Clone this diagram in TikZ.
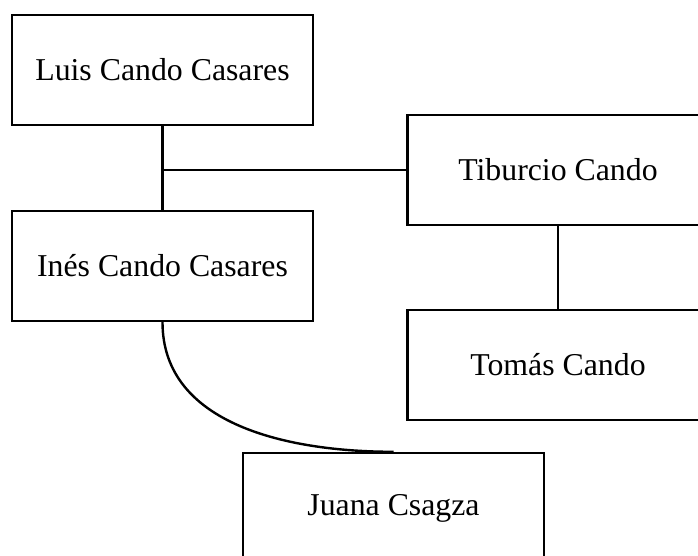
\documentclass[tikz,border=0pt]{standalone}
\usepackage{fontspec}
\setmainfont{Liberation Serif}
\usepackage{tikz}

\begin{document}
\begin{tikzpicture}[x=0.5pt, y=-0.5pt, line width=1.2pt,
		person/.style={draw, rectangle, inner sep=0pt, minimum width=150.5pt, minimum height=55pt,
			font=\fontsize{15.9}{19}\selectfont}]
		\clip (0,0) rectangle (698,556);

		\node[person] (luis) at (162.5,70) {Luis Cando Casares};
		\node[person] (ines) at (162.5,266) {Inés Cando Casares};
		\node[person] (tiburcio) at (558,170) {Tiburcio Cando};
		\node[person] (tomas) at (558,365) {Tomás Cando};
		\node[person] (juana) at (393.5,508) {Juana Csagza};

		\coordinate (join) at (luis.south |- tiburcio.west);

		\draw (luis) -- (ines);
		\draw (join) -- (tiburcio.west);
		\draw (tiburcio) -- (tomas);
		\draw (ines.south) to[out=-90, in=180] (juana.north);
	\end{tikzpicture}
\end{document}
